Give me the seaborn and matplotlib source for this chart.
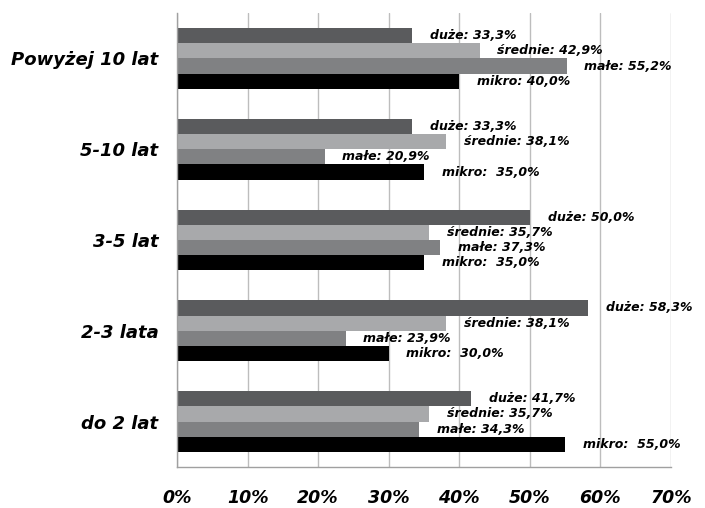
import numpy as np
import pandas as pd
import matplotlib
matplotlib.use("Agg")
import matplotlib.pyplot as plt
import seaborn as sns

# ---------- data ----------
categories = ["Powyżej 10 lat", "5-10 lat", "3-5 lat", "2-3 lata", "do 2 lat"]
series = ["duże", "średnie", "małe", "mikro"]
duze = [33.3, 33.3, 50.0, 58.3, 41.7]
srednie = [42.9, 38.1, 35.7, 38.1, 35.7]
male = [55.2, 20.9, 37.3, 23.9, 34.3]
mikro = [40.0, 35.0, 35.0, 30.0, 55.0]
# the source uses a double space after "mikro:" in most groups
mikro_sep = [" ", "  ", "  ", "  ", "  "]
x_ticks = [0, 10, 20, 30, 40, 50, 60, 70]

colors = ["#5a5b5d", "#a8a9ab", "#808183", "#000000"]

rows = []
for s, vals in zip(series, [duze, srednie, male, mikro]):
    for c, v in zip(categories, vals):
        rows.append({"kat": c, "typ": s, "val": v})
df = pd.DataFrame(rows)

sns.set_style("white")
plt.rcParams["font.family"] = ["DejaVu Sans"]
plt.rcParams["text.color"] = "black"
plt.rcParams["xtick.color"] = "black"
plt.rcParams["ytick.color"] = "black"

fig = plt.figure(figsize=(7.05, 5.08), dpi=100)
ax = fig.add_axes([0.2511, 0.0807, 0.7007, 0.8937])

sns.barplot(data=df, x="val", y="kat", hue="typ", order=categories,
            hue_order=series, palette=colors, orient="h", width=0.67,
            saturation=1, legend=False, linewidth=0, ax=ax)

ax.set_xlim(0, 70)
ax.set_ylim(4.5, -0.5)
ax.set_xticks(x_ticks)
ax.set_xticklabels([f"{t}%" for t in x_ticks], fontsize=12.5,
                   fontweight="bold", fontstyle="italic")
ax.set_yticks(range(len(categories)))
ax.set_yticklabels(categories, fontsize=13, fontweight="bold",
                   fontstyle="italic")
ax.tick_params(axis="y", length=0, pad=13.5)
ax.tick_params(axis="x", length=3.6, color="#a0a0a0", pad=12, direction="out")
ax.set_yticks(np.arange(-0.5, 5, 1), minor=True)
ax.tick_params(axis="y", which="minor", length=3.6, color="#a0a0a0")
ax.set_xlabel("")
ax.set_ylabel("")

ax.grid(axis="x", color="#bdbdbd", linewidth=1)
ax.set_axisbelow(True)
for side in ["top", "right"]:
    ax.spines[side].set_visible(False)
for side in ["left", "bottom"]:
    ax.spines[side].set_color("#a0a0a0")
    ax.spines[side].set_linewidth(1)

# value labels
bw = 0.67 / 4
for j, (s, vals) in enumerate(zip(series, [duze, srednie, male, mikro])):
    for i, v in enumerate(vals):
        y = i - 0.335 + bw * (j + 0.5)
        sep = mikro_sep[i] if s == "mikro" else " "
        txt = f"{s}:{sep}{v:.1f}%".replace(".", ",")
        ax.text(v + 2.5, y, txt, va="center", ha="left", fontsize=9,
                fontweight="bold", fontstyle="italic", clip_on=False)

fig.savefig("out.png", dpi=100)
